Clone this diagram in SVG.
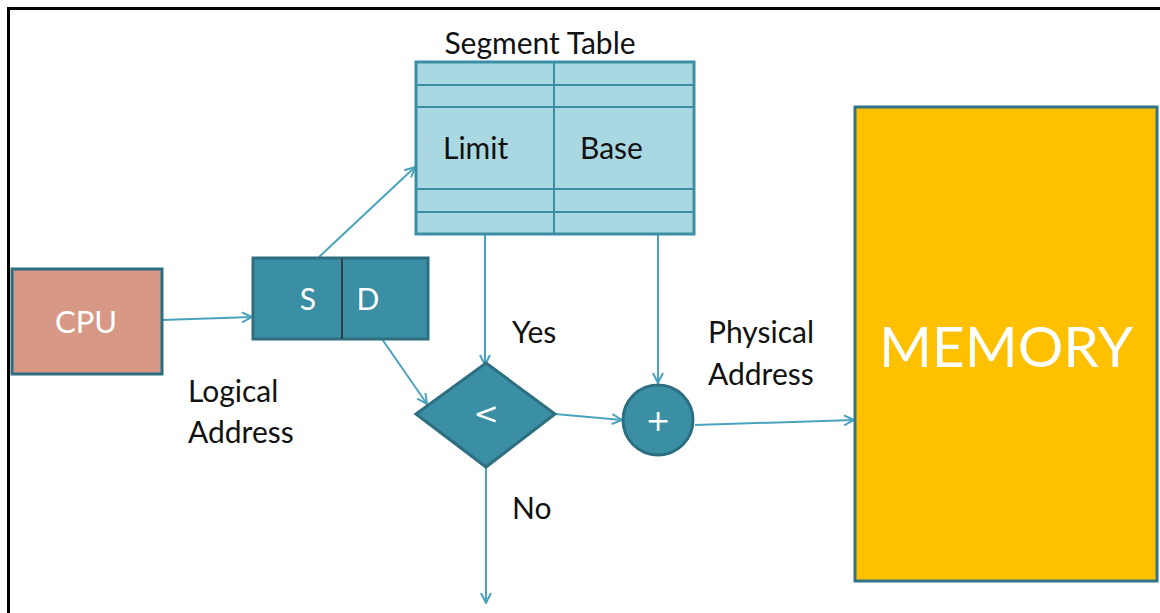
<svg xmlns="http://www.w3.org/2000/svg" width="1160" height="613" viewBox="0 0 1160 613">
<defs>
<style>
.lbl{font-family:Lato,"Liberation Sans",sans-serif;font-size:30px;fill:#111}
.wt{font-family:Lato,"Liberation Sans",sans-serif;fill:#fff}
.sym{font-family:"DejaVu Sans",sans-serif;fill:#fff;font-size:30px}
.conn{stroke:#4aa3bd;stroke-width:2;fill:none}
.teal{fill:#3a8fa5;stroke:#2d6f80;stroke-width:3}
.grid{stroke:#3a8fa5;stroke-width:2}
</style>
<marker id="arr" viewBox="0 0 12 12" refX="11" refY="6" markerWidth="12" markerHeight="12" markerUnits="userSpaceOnUse" orient="auto">
<path d="M1,1 L11,6 L1,11" fill="none" stroke="#4aa3bd" stroke-width="2"/>
</marker>
</defs>
<rect width="1160" height="613" fill="#fff"/>
<path d="M8.5,613 V8.5 H1160" fill="none" stroke="#000" stroke-width="3"/>

<g id="connectors">
<line class="conn" x1="162" y1="320" x2="252" y2="317" marker-end="url(#arr)"/>
<line class="conn" x1="319" y1="257" x2="415" y2="167" marker-end="url(#arr)"/>
<line class="conn" x1="382" y1="339" x2="427" y2="404" marker-end="url(#arr)"/>
<line class="conn" x1="485" y1="234" x2="485" y2="365" marker-end="url(#arr)"/>
<line class="conn" x1="658" y1="234" x2="658" y2="383" marker-end="url(#arr)"/>
<line class="conn" x1="555" y1="414" x2="622" y2="420" marker-end="url(#arr)"/>
<line class="conn" x1="695" y1="425" x2="854" y2="420" marker-end="url(#arr)"/>
<line class="conn" x1="486" y1="467" x2="486" y2="603" marker-end="url(#arr)"/>
</g>

<g id="segment-table">
<rect x="416" y="62" width="278" height="172" fill="#a9d8e2" stroke="#3a8fa5" stroke-width="3"/>
<line class="grid" x1="416" y1="85" x2="694" y2="85"/>
<line class="grid" x1="416" y1="107" x2="694" y2="107"/>
<line class="grid" x1="416" y1="189" x2="694" y2="189"/>
<line class="grid" x1="416" y1="212" x2="694" y2="212"/>
<line class="grid" x1="554" y1="62" x2="554" y2="234"/>
<text class="lbl" x="540" y="54" text-anchor="middle">Segment Table</text>
<text class="lbl" x="443" y="159" font-size="33">Limit</text>
<text class="lbl" x="580" y="159" font-size="33">Base</text>
</g>

<g id="cpu">
<rect x="12" y="269" width="150" height="105" fill="#d79886" stroke="#2d6f80" stroke-width="3"/>
<text class="wt" x="86" y="333" font-size="31" text-anchor="middle">CPU</text>
</g>

<g id="logical-address">
<rect class="teal" x="253" y="258" width="175" height="81"/>
<line x1="342" y1="258" x2="342" y2="339" stroke="#3d3d3d" stroke-width="2"/>
<text class="wt" x="308" y="310" font-size="30" text-anchor="middle">S</text>
<text class="wt" x="368" y="310" font-size="30" text-anchor="middle">D</text>
</g>

<g id="compare">
<polygon class="teal" points="486,363 555,414 486,467 416,414"/>
<text class="sym" x="486" y="424" text-anchor="middle">&lt;</text>
</g>

<g id="adder">
<circle class="teal" cx="658" cy="420" r="35"/>
<text class="sym" x="658" y="431" text-anchor="middle">+</text>
</g>

<g id="memory">
<rect x="855" y="107" width="302" height="474" fill="#ffc000" stroke="#31748a" stroke-width="3"/>
<text class="wt" x="1006" y="367" font-size="57" text-anchor="middle">MEMORY</text>
</g>

<g id="labels">
<text class="lbl" x="188" y="402">Logical</text>
<text class="lbl" x="188" y="443">Address</text>
<text class="lbl" x="512" y="343">Yes</text>
<text class="lbl" x="708" y="343">Physical</text>
<text class="lbl" x="708" y="385">Address</text>
<text class="lbl" x="512" y="519">No</text>
</g>
</svg>
